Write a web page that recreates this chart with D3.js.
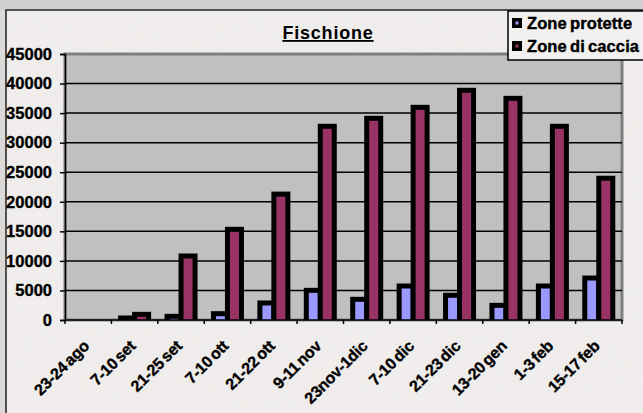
<!DOCTYPE html>
<html>
<head>
<meta charset="utf-8">
<script src="https://cdn.jsdelivr.net/npm/d3@7"></script>
<style>
  html, body { margin: 0; padding: 0; background: #dcdad8; }
  svg { display: block; }
  svg text { font-family: "Liberation Sans", Arimo, Arial, sans-serif; font-weight: 700; fill: #000; }
</style>
</head>
<body>
<svg id="chart" width="643" height="413"></svg>
<script>
// Survey periods
const categories = ["23-24 ago", "7-10 set", "21-25 set", "7-10 ott", "21-22 ott", "9-11 nov",
  "23nov-1dic", "7-10 dic", "21-23 dic", "13-20 gen", "1-3 feb", "15-17 feb"];
// Counts in protected areas
const zoneProtette = [0, 340, 620, 1070, 2880, 5020, 3500, 5750, 4180, 2480, 5750, 7100];
// Counts in hunting areas
const zoneDiCaccia = [0, 960, 10830, 15340, 21300, 32770, 34120, 35980, 38860, 37500, 32770, 23980];
const yTicks = [0, 5000, 10000, 15000, 20000, 25000, 30000, 35000, 40000, 45000];
const seriesNames = ["Zone protette", "Zone di caccia"];
const seriesColors = ["#9999ff", "#993366"];

const svg = d3.select("#chart");
const W = 643, H = 413;
const plot = { left: 65, right: 622, top: 54, bottom: 320 };

// Paper-like textured background
const defs = svg.append("defs");
const grain = defs.append("filter").attr("id", "grain")
  .attr("x", 0).attr("y", 0).attr("width", "100%").attr("height", "100%");
grain.append("feTurbulence").attr("type", "fractalNoise")
  .attr("baseFrequency", 0.7).attr("numOctaves", 2).attr("seed", 4).attr("result", "noise");
grain.append("feColorMatrix").attr("in", "noise").attr("type", "matrix")
  .attr("values", "0 0 0 0 0.84  0 0 0 0 0.80  0 0 0 0 0.80  0 0 0 -1.8 1.05");

defs.append("clipPath").attr("id", "plotClip")
  .append("rect").attr("x", plot.left).attr("y", 0)
  .attr("width", plot.right - plot.left).attr("height", plot.bottom);

// strip above the chart frame
svg.append("rect").attr("x", 0).attr("y", 0).attr("width", W).attr("height", 11).attr("fill", "#d2d0cf");

// chart frame
svg.append("rect").attr("x", 6).attr("y", 10).attr("width", W + 20).attr("height", H + 20)
  .attr("fill", "#f0eeec").attr("stroke", "#222").attr("stroke-width", 1.5);
svg.append("rect").attr("x", 7).attr("y", 11).attr("width", W).attr("height", H)
  .attr("fill", "#fff").attr("filter", "url(#grain)").attr("opacity", 0.6);

const x = d3.scaleBand().domain(categories).range([plot.left, plot.right]).padding(0);
const y = d3.scaleLinear().domain([0, 45000]).range([plot.bottom, plot.top]);

// plot area
svg.append("rect")
  .attr("x", plot.left).attr("y", plot.top)
  .attr("width", plot.right - plot.left).attr("height", plot.bottom - plot.top)
  .attr("fill", "#c0c0c0").attr("stroke", "#808080").attr("stroke-width", 3);

// gridlines
svg.append("g").selectAll("line")
  .data(yTicks.filter(v => v > 0 && v < 45000))
  .join("line")
  .attr("x1", plot.left).attr("x2", plot.right)
  .attr("y1", d => y(d)).attr("y2", d => y(d))
  .attr("stroke", "#000").attr("stroke-width", 1.5);

// bars
const barW = 14;
const bars = svg.append("g").attr("clip-path", "url(#plotClip)");
[zoneProtette, zoneDiCaccia].forEach((vals, s) => {
  bars.append("g").selectAll("rect")
    .data(categories.map((c, i) => ({ c, v: vals[i] })).filter(d => d.v > 0))
    .join("rect")
    .attr("x", d => x(d.c) + x.bandwidth() / 2 - barW + s * barW)
    .attr("width", barW)
    .attr("y", d => y(d.v))
    .attr("height", d => y(0) - y(d.v) + 4)
    .attr("fill", seriesColors[s])
    .attr("stroke", "#000").attr("stroke-width", 5);
});

// y axis
const yAxis = svg.append("g").attr("transform", `translate(${plot.left},0)`)
  .call(d3.axisLeft(y).tickValues(yTicks).tickSize(5).tickPadding(8).tickFormat(d3.format("d")));
yAxis.attr("font-family", null).attr("font-size", null);
yAxis.select(".domain").attr("stroke", "#000").attr("stroke-width", 1.5);
yAxis.selectAll(".tick line").attr("stroke", "#000").attr("stroke-width", 1.5);
yAxis.selectAll("text").style("font-size", "16.5px").attr("stroke", "#000").attr("stroke-width", 0.35);

// x axis
svg.append("line").attr("x1", plot.left).attr("x2", plot.right)
  .attr("y1", plot.bottom).attr("y2", plot.bottom).attr("stroke", "#000").attr("stroke-width", 1.5);
svg.append("g").selectAll("line")
  .data(d3.range(categories.length + 1))
  .join("line")
  .attr("x1", i => plot.left + i * x.step()).attr("x2", i => plot.left + i * x.step())
  .attr("y1", plot.bottom).attr("y2", plot.bottom + 4)
  .attr("stroke", "#000").attr("stroke-width", 1.5);

svg.append("g").selectAll("text")
  .data(categories)
  .join("text")
  .attr("transform", d => `translate(${x(d) + x.bandwidth() / 2 + 2},${plot.bottom + 27}) rotate(-45)`)
  .attr("text-anchor", "end")
  .style("font-size", "16px")
  .attr("stroke", "#000").attr("stroke-width", 0.35)
  .attr("letter-spacing", -0.2)
  .attr("word-spacing", -2)
  .text(d => d);

// title
svg.append("text")
  .attr("x", 328).attr("y", 39)
  .attr("text-anchor", "middle")
  .style("font-size", "18px")
  .attr("letter-spacing", 0.8)
  .attr("text-decoration", "underline")
  .text("Fischione");

// legend
const lg = svg.append("g");
lg.append("rect").attr("x", 508).attr("y", 11).attr("width", 150).attr("height", 49)
  .attr("fill", "#f3f1f0").attr("stroke", "#000").attr("stroke-width", 1.5);
const rowsY = [23, 46];
seriesNames.forEach((name, i) => {
  lg.append("rect").attr("x", 512).attr("y", rowsY[i] - 5).attr("width", 10).attr("height", 10)
    .attr("fill", "#000");
  lg.append("rect").attr("x", 515.5).attr("y", rowsY[i] - 1.5).attr("width", 3).attr("height", 3)
    .attr("fill", seriesColors[i]);
  lg.append("text").attr("x", 527).attr("y", rowsY[i]).attr("dy", "0.36em")
    .style("font-size", "16.5px").attr("stroke", "#000").attr("stroke-width", 0.4)
    .attr("letter-spacing", 0.1)
    .attr("word-spacing", -1.5)
    .text(name);
});
</script>
</body>
</html>
